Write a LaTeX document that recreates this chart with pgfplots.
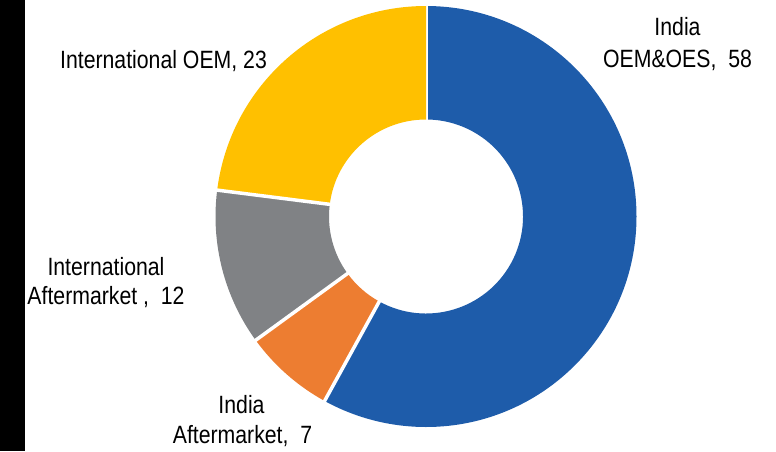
\documentclass[border=0pt]{standalone}
\usepackage{pgfplots}
\pgfplotsset{compat=1.18}
\usepackage{pgfplotstable}
\usepackage{fontspec}
\setmainfont{Liberation Sans}[FakeStretch=0.85]
\definecolor{cBlue}{RGB}{30,92,170}
\definecolor{cOrange}{RGB}{237,125,49}
\definecolor{cGray}{RGB}{128,130,133}
\definecolor{cYellow}{RGB}{255,192,0}
\newcommand{\lb}{\fontsize{25}{30}\selectfont}
\pgfplotstableread{
value col
58 cBlue
7 cOrange
12 cGray
23 cYellow
}\piedata
\begin{document}
\begin{tikzpicture}
\gdef\cum{0}
\foreach \i in {0,...,3}{
  \pgfplotstablegetelem{\i}{value}\of\piedata
  \pgfmathsetmacro\st{90-3.6*\cum}
  \pgfmathsetmacro\newcum{\cum+\pgfplotsretval}
  \pgfmathsetmacro\en{90-3.6*\newcum}
  \expandafter\xdef\csname st\i\endcsname{\st}
  \expandafter\xdef\csname en\i\endcsname{\en}
  \pgfplotstablegetelem{\i}{col}\of\piedata
  \expandafter\xdef\csname col\i\endcsname{\pgfplotsretval}
  \xdef\cum{\newcum}
}
\begin{axis}[
  x=1pt, y=1pt,
  xmin=0, xmax=776, ymin=0, ymax=451,
  hide axis, clip=false,
]
\path (axis cs:0,0) rectangle (axis cs:776,451);
\fill[black] (axis cs:0,0) rectangle (axis cs:25,451);
\pgfplotsinvokeforeach{0,...,3}{
  \edef\tmp{\noexpand\fill[\csname col#1\endcsname]
    (axis cs:{426+210.5*cos(\csname st#1\endcsname)},{234.5+210.5*sin(\csname st#1\endcsname)})
    arc[start angle=\csname st#1\endcsname, end angle=\csname en#1\endcsname, radius=210.5pt]
    -- (axis cs:{426+97*cos(\csname en#1\endcsname)},{234.5+97*sin(\csname en#1\endcsname)})
    arc[start angle=\csname en#1\endcsname, end angle=\csname st#1\endcsname, radius=97pt]
    -- cycle;}\tmp
  \edef\tmp{\noexpand\draw[white, line width=3.5pt]
    (axis cs:{426+94*cos(\csname st#1\endcsname)},{234.5+94*sin(\csname st#1\endcsname)})
    -- (axis cs:{426+214*cos(\csname st#1\endcsname)},{234.5+214*sin(\csname st#1\endcsname)});}\tmp
}
\node[anchor=base, inner sep=0pt] at (axis cs:677.5,415) {\lb India};
\node[anchor=base, inner sep=0pt] at (axis cs:677.5,384) {\lb OEM\&OES,\ \ 58};
\node[anchor=base, inner sep=0pt] at (axis cs:163.5,383) {\lb International OEM, 23};
\node[anchor=base, inner sep=0pt] at (axis cs:106,176) {\lb International};
\node[anchor=base, inner sep=0pt] at (axis cs:106,147) {\lb Aftermarket ,\ \ 12};
\node[anchor=base, inner sep=0pt] at (axis cs:241.5,38) {\lb India};
\node[anchor=base, inner sep=0pt] at (axis cs:242.5,8) {\lb Aftermarket,\ \ 7};
\end{axis}
\end{tikzpicture}
\end{document}
